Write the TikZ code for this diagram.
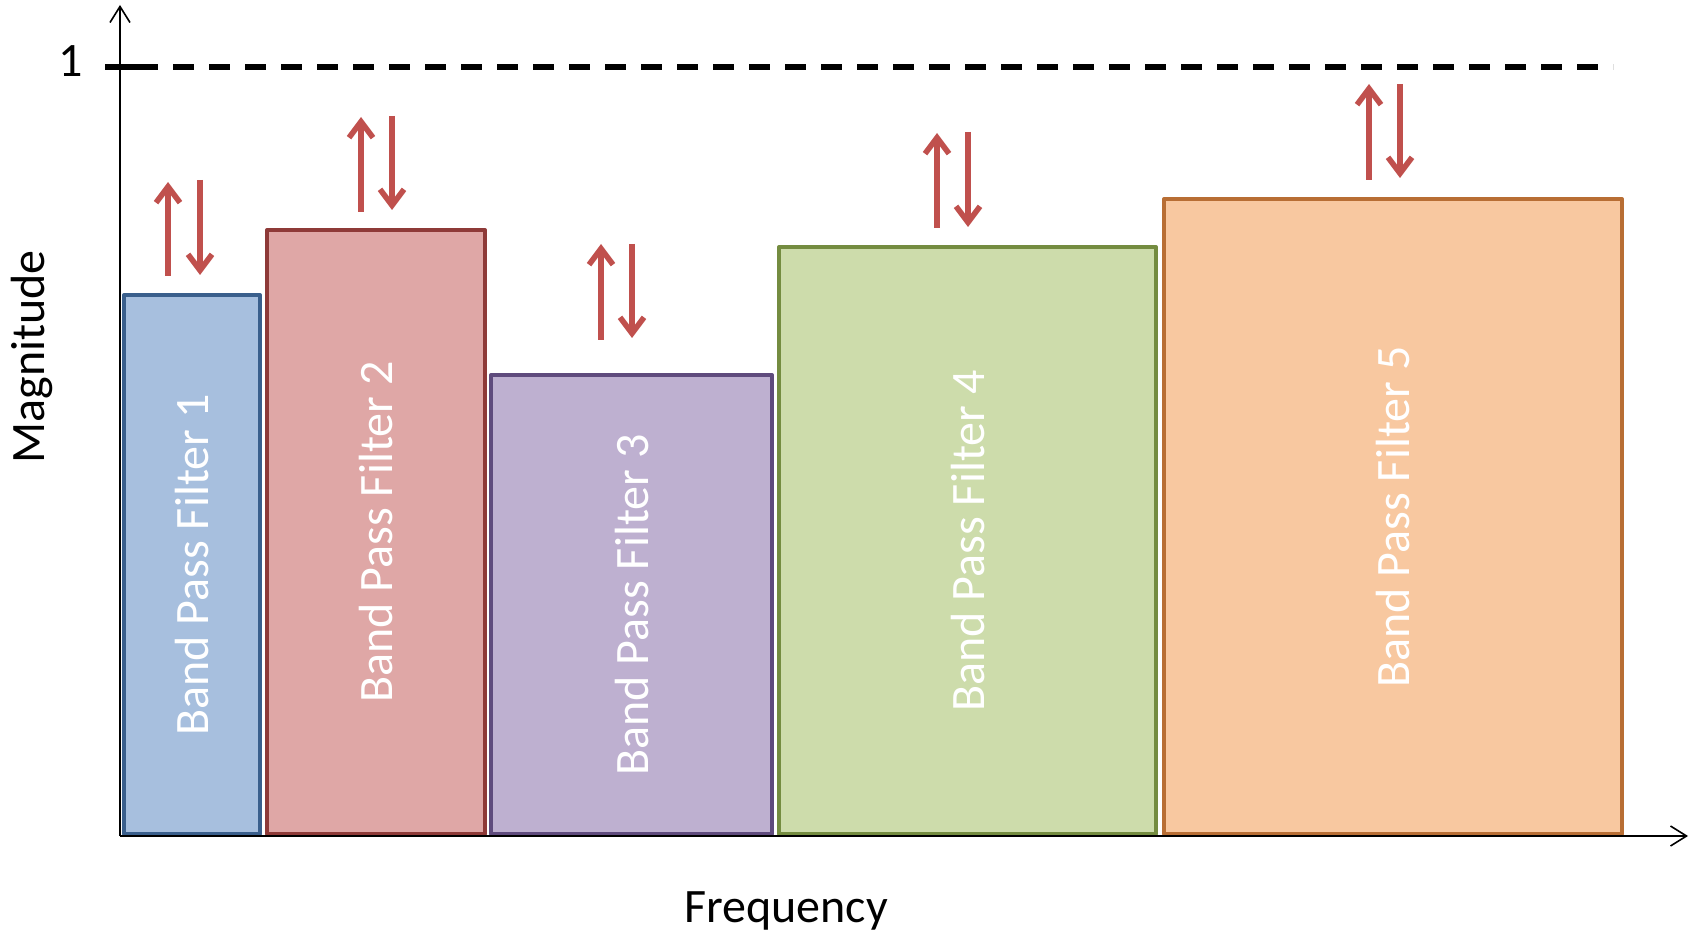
\documentclass[tikz,border=0pt]{standalone}
\usepackage{fontspec}
\setmainfont{Carlito}
\usetikzlibrary{arrows.meta}
\definecolor{arrred}{HTML}{C0504D}
\definecolor{f1}{HTML}{A7BFDE}\definecolor{d1}{HTML}{3A5F8C}
\definecolor{f2}{HTML}{DFA7A6}\definecolor{d2}{HTML}{8E3A38}
\definecolor{f3}{HTML}{BEB0D0}\definecolor{d3}{HTML}{5F4B7D}
\definecolor{f4}{HTML}{CDDCAB}\definecolor{d4}{HTML}{748C40}
\definecolor{f5}{HTML}{F8C8A0}\definecolor{d5}{HTML}{B86E34}
\tikzset{
  band/.style={line width=2pt, line join=round},
  bandtext/.style={text=white, rotate=90, font=\fontsize{24}{29}\selectfont, inner sep=0pt},
  redarrow/.style={arrred, line width=3pt, -{Straight Barb[length=8pt,width=12pt,line width=2.8pt]}},
  axis/.style={black, line width=0.8pt, -{Straight Barb[length=8pt,width=10pt,line width=0.8pt]}},
  lbl/.style={font=\fontsize{24}{29}\selectfont, inner sep=0pt}
}
\begin{document}
\begin{tikzpicture}[x=0.5pt,y=-0.5pt]
\useasboundingbox (0,0) rectangle (1696,935);
% boxes
\filldraw[band, fill=f1, draw=d1] (124,295) rectangle (260,834);
\filldraw[band, fill=f2, draw=d2] (267,230) rectangle (485,834);
\filldraw[band, fill=f3, draw=d3] (491,375) rectangle (772,834);
\filldraw[band, fill=f4, draw=d4] (779,247) rectangle (1156,834);
\filldraw[band, fill=f5, draw=d5] (1164,199) rectangle (1622,834);
% labels in boxes
\node[bandtext] (t1) at (192,565) {Band Pass Filter 1};
\node[bandtext] (t2) at (376,532) {Band Pass Filter 2};
\node[bandtext] (t3) at (632,605) {Band Pass Filter 3};
\node[bandtext] (t4) at (968,541) {Band Pass Filter 4};
\node[bandtext] (t5) at (1393,517) {Band Pass Filter 5};
% axes
\coordinate (o) at (120,836);
\coordinate (ytip) at (120,5);
\coordinate (xtip) at (1688,836);
\draw[axis] (o) -- (ytip);
\draw[axis] (o) -- (xtip);
% unity line
\draw[line width=3pt] (105,67) -- (137,67);
\draw[line width=3pt, dash pattern=on 10.5pt off 7.5pt] (137,67) -- (1613,67);
\node[lbl] (one) at (71,61) {1};
\node[lbl, rotate=90] (mag) at (32,357) {Magnitude};
\node[lbl] (freq) at (786,911) {Frequency};
% arrows
\draw[redarrow] (168,276) -- (168,182);
\draw[redarrow] (200,180) -- (200,275);
\draw[redarrow] (361,212) -- (361,117);
\draw[redarrow] (392,116) -- (392,210);
\draw[redarrow] (601,340) -- (601,244);
\draw[redarrow] (632,244) -- (632,338);
\draw[redarrow] (937,228) -- (937,133);
\draw[redarrow] (968,132) -- (968,227);
\draw[redarrow] (1369,180) -- (1369,84);
\draw[redarrow] (1400,84) -- (1400,178);
\end{tikzpicture}
\end{document}
